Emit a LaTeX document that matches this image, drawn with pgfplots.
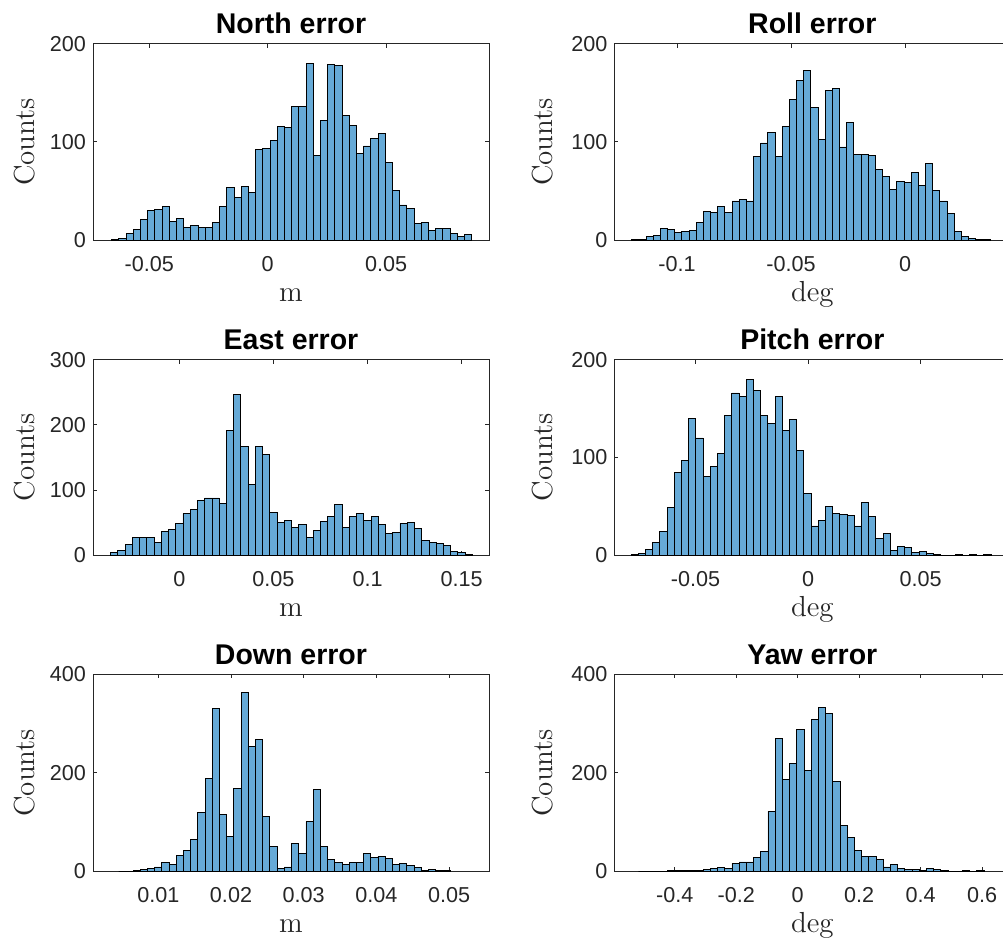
\documentclass[border=0pt]{standalone}
\usepackage{fontspec}
\usepackage{pgfplots}
\pgfplotsset{compat=1.18}
\newfontfamily\hv{Liberation Sans}
\definecolor{barblue}{rgb}{0.4,0.668,0.845}
\definecolor{axgray}{rgb}{0.15,0.15,0.15}
\pgfplotsset{
 myhist/.style={
  scale only axis, anchor=south west, width=198bp,
  ymin=0,
  scaled x ticks=false, scaled y ticks=false,
  axis line style={draw=axgray, line width=0.5bp},
  tick align=inside,
  major tick length=2bp,
  every tick/.style={axgray, line width=0.5bp},
  tick label style={font=\hv\fontsize{10.8bp}{13bp}\selectfont, text=axgray},
  /pgf/number format/assume math mode=true,
  xticklabel style={yshift=-4.6bp},
  every axis title/.style={at={(axis description cs:0.5,1)}, anchor=base, yshift=5.15bp, font=\hv\bfseries\fontsize{14.25bp}{17bp}\selectfont, text=black},
  every axis x label/.style={at={(axis description cs:0.5,0)}, anchor=base, yshift=-30.8bp, font=\fontsize{14.5bp}{17bp}\selectfont, text=axgray},
  every axis y label/.style={at={(axis description cs:-0.1737,0.5)}, rotate=90, anchor=center, font=\fontsize{14.5bp}{17bp}\selectfont, text=axgray},
  ylabel={Counts},
 },
 rightcol/.style={ylabel style={at={(axis description cs:-0.1813,0.5)}}},
 barsty/.style={ybar interval, fill=barblue, draw=black, line width=0.4bp},
}
\begin{document}
\begin{tikzpicture}
\path[use as bounding box] (0,0) rectangle (501.5bp,472bp);
% North
\begin{axis}[myhist, at={(46.5bp,351.83bp)}, height=98.33bp,
  xmin=-0.07371, xmax=0.09338, ymax=200,
  xtick={-0.05,0,0.05}, xticklabels={-0.05,0,0.05},
  ytick={0,100,200}, yticklabels={0,100,200},
  title={North error}, xlabel={m}]
\addplot[barsty] coordinates {(-0.06584,1) (-0.06280,2) (-0.05976,7) (-0.05673,11) (-0.05369,21) (-0.05065,30) (-0.04761,31) (-0.04457,34) (-0.04154,19) (-0.03850,22) (-0.03546,13) (-0.03242,15) (-0.02938,13) (-0.02635,13) (-0.02331,18) (-0.02027,34) (-0.01723,54) (-0.01419,44) (-0.01116,55) (-0.00812,49) (-0.00508,92) (-0.00204,93) (0.00100,102) (0.00403,116) (0.00707,115) (0.01011,136) (0.01315,136) (0.01619,180) (0.01922,86) (0.02226,122) (0.02530,179) (0.02834,178) (0.03138,127) (0.03441,117) (0.03745,88) (0.04049,96) (0.04353,104) (0.04657,109) (0.04960,79) (0.05264,51) (0.05568,36) (0.05872,32) (0.06176,17) (0.06479,18) (0.06783,10) (0.07087,12) (0.07391,12) (0.07695,7) (0.07998,4) (0.08302,6) (0.08606,6)};
\end{axis}
% Roll
\begin{axis}[myhist, rightcol, at={(307.17bp,351.83bp)}, height=98.33bp,
  xmin=-0.12749, xmax=0.0462, ymax=200,
  xtick={-0.1,-0.05,0}, xticklabels={-0.1,-0.05,0},
  ytick={0,100,200}, yticklabels={0,100,200},
  title={Roll error}, xlabel={deg}]
\addplot[barsty] coordinates {(-0.11988,1) (-0.11674,1) (-0.11359,4) (-0.11045,5) (-0.10731,12) (-0.10416,11) (-0.10102,8) (-0.09788,9) (-0.09473,10) (-0.09159,18) (-0.08845,29) (-0.08530,28) (-0.08216,34) (-0.07902,28) (-0.07588,40) (-0.07273,42) (-0.06959,40) (-0.06645,85) (-0.06330,99) (-0.06016,110) (-0.05702,85) (-0.05387,116) (-0.05073,143) (-0.04759,163) (-0.04444,173) (-0.04130,135) (-0.03816,103) (-0.03501,152) (-0.03187,154) (-0.02873,95) (-0.02558,120) (-0.02244,87) (-0.01930,87) (-0.01615,86) (-0.01301,72) (-0.00987,65) (-0.00672,52) (-0.00358,60) (-0.00044,59) (0.00271,69) (0.00585,56) (0.00899,78) (0.01214,51) (0.01528,40) (0.01842,27) (0.02157,9) (0.02471,4) (0.02785,2) (0.03100,1) (0.03414,1) (0.03728,1)};
\end{axis}
% East
\begin{axis}[myhist, at={(46.5bp,194.33bp)}, height=97.83bp,
  xmin=-0.04586, xmax=0.16452, ymax=300,
  xtick={0,0.05,0.1,0.15}, xticklabels={0,0.05,0.1,0.15},
  ytick={0,100,200,300}, yticklabels={0,100,200,300},
  title={East error}, xlabel={m}]
\addplot[barsty] coordinates {(-0.03648,4) (-0.03264,7) (-0.02879,16) (-0.02495,27) (-0.02111,28) (-0.01727,28) (-0.01342,20) (-0.00958,36) (-0.00574,39) (-0.00189,49) (0.00195,64) (0.00579,71) (0.00963,84) (0.01348,88) (0.01732,88) (0.02116,80) (0.02501,191) (0.02885,247) (0.03269,167) (0.03653,109) (0.04038,167) (0.04422,155) (0.04806,66) (0.05190,50) (0.05575,54) (0.05959,43) (0.06343,47) (0.06728,27) (0.07112,38) (0.07496,52) (0.07880,60) (0.08265,78) (0.08649,43) (0.09033,60) (0.09418,64) (0.09802,54) (0.10186,60) (0.10570,47) (0.10955,33) (0.11339,35) (0.11723,49) (0.12108,50) (0.12492,41) (0.12876,23) (0.13260,20) (0.13645,18) (0.14029,15) (0.14413,6) (0.14798,4) (0.15182,1) (0.15566,1)};
\end{axis}
% Pitch
\begin{axis}[myhist, rightcol, at={(307.17bp,194.33bp)}, height=97.83bp,
  xmin=-0.08607, xmax=0.08993, ymax=200,
  xtick={-0.05,0,0.05}, xticklabels={-0.05,0,0.05},
  ytick={0,100,200}, yticklabels={0,100,200},
  title={Pitch error}, xlabel={deg}]
\addplot[barsty] coordinates {(-0.07867,1) (-0.07547,2) (-0.07227,6) (-0.06907,13) (-0.06587,24) (-0.06267,49) (-0.05947,85) (-0.05627,97) (-0.05307,140) (-0.04987,120) (-0.04667,81) (-0.04347,91) (-0.04027,104) (-0.03707,143) (-0.03387,166) (-0.03067,162) (-0.02747,180) (-0.02427,169) (-0.02107,143) (-0.01787,135) (-0.01467,162) (-0.01147,128) (-0.00827,139) (-0.00507,107) (-0.00187,63) (0.00133,30) (0.00453,36) (0.00773,50) (0.01093,43) (0.01413,42) (0.01733,41) (0.02053,30) (0.02373,54) (0.02693,40) (0.03013,17) (0.03333,22) (0.03653,5) (0.03973,9) (0.04293,8) (0.04613,3) (0.04933,4) (0.05253,2) (0.05573,1) (0.05893,0) (0.06213,0) (0.06533,1) (0.06853,0) (0.07173,1) (0.07493,0) (0.07813,1) (0.08133,1)};
\end{axis}
% Down
\begin{axis}[myhist, at={(46.5bp,36.33bp)}, height=98.5bp,
  xmin=0.00101, xmax=0.0555, ymax=400,
  xtick={0.01,0.02,0.03,0.04,0.05}, xticklabels={0.01,0.02,0.03,0.04,0.05},
  ytick={0,200,400}, yticklabels={0,200,400},
  title={Down error}, xlabel={m}]
\addplot[barsty] coordinates {(0.004531,0) (0.005523,0) (0.006514,2) (0.007505,4) (0.008497,5) (0.009488,9) (0.010480,18) (0.011471,14) (0.012462,33) (0.013454,43) (0.014445,65) (0.015437,120) (0.016428,189) (0.017419,330) (0.018411,115) (0.019402,70) (0.020394,168) (0.021385,363) (0.022376,253) (0.023368,267) (0.024359,111) (0.025351,50) (0.026342,5) (0.027333,9) (0.028325,56) (0.029316,37) (0.030308,101) (0.031299,167) (0.032290,51) (0.033282,24) (0.034273,18) (0.035264,14) (0.036256,18) (0.037247,18) (0.038239,37) (0.039230,29) (0.040221,31) (0.041213,26) (0.042204,14) (0.043196,16) (0.044187,12) (0.045178,7) (0.046170,1) (0.047161,4) (0.048153,1) (0.049144,1) (0.050136,1)};
\end{axis}
% Yaw
\begin{axis}[myhist, rightcol, at={(307.17bp,36.33bp)}, height=98.5bp,
  xmin=-0.59655, xmax=0.69196, ymax=400,
  xtick={-0.4,-0.2,0,0.2,0.4,0.6}, xticklabels={-0.4,-0.2,0,0.2,0.4,0.6},
  ytick={0,200,400}, yticklabels={0,200,400},
  title={Yaw error}, xlabel={deg}]
\addplot[barsty] coordinates {(-0.51846,0) (-0.49503,0) (-0.47161,0) (-0.44818,0) (-0.42475,1) (-0.40132,2) (-0.37790,1) (-0.35447,1) (-0.33104,2) (-0.30762,4) (-0.28419,6) (-0.26076,7) (-0.23734,5) (-0.21391,16) (-0.19048,19) (-0.16706,19) (-0.14363,28) (-0.12020,41) (-0.09677,122) (-0.07335,270) (-0.04992,187) (-0.02649,219) (-0.00307,289) (0.02036,205) (0.04379,309) (0.06721,333) (0.09064,320) (0.11407,182) (0.13749,93) (0.16092,68) (0.18435,43) (0.20777,30) (0.23120,31) (0.25463,24) (0.27806,9) (0.30148,14) (0.32491,6) (0.34834,4) (0.37176,3) (0.39519,1) (0.41862,5) (0.44204,3) (0.46547,1) (0.48890,0) (0.51232,0) (0.53575,1) (0.55918,0) (0.58260,1) (0.60603,1)};
\end{axis}
\end{tikzpicture}
\end{document}
